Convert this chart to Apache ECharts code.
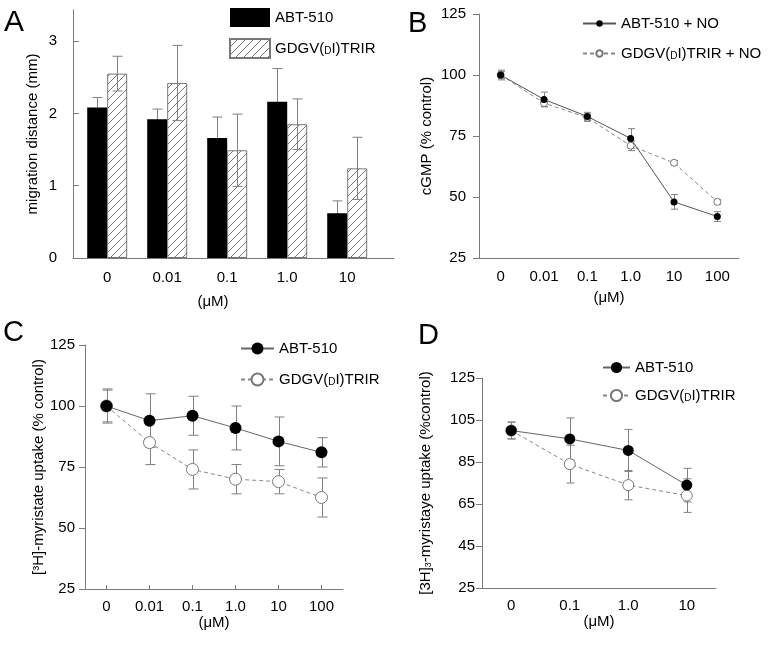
<!DOCTYPE html>
<html>
<head>
<meta charset="utf-8">
<script src="https://cdn.jsdelivr.net/npm/echarts@6/dist/echarts.min.js"></script>
<style>
  html, body { margin: 0; padding: 0; background: #fff; }
  #chart { width: 768px; height: 646px; }
</style>
</head>
<body>
<div id="chart"></div>
<script>
// A: migration distance (mm)
const doseA = ['0', '0.01', '0.1', '1.0', '10'];
const abtA = [2.08, 1.92, 1.66, 2.16, 0.62];
const abtAErr = [0.14, 0.14, 0.29, 0.46, 0.17];
const gdgvA = [2.55, 2.42, 1.49, 1.85, 1.24];
const gdgvAErr = [0.24, 0.52, 0.5, 0.35, 0.43];
const ticksA = [0, 1, 2, 3];

// B: cGMP (% control)
const doseB = ['0', '0.01', '0.1', '1.0', '10', '100'];
const abtB = [100, 90, 83, 74, 48, 42];
const abtBErr = [2, 3, 1.7, 4, 3, 2];
const gdgvB = [100, 88.5, 82.5, 71, 64, 48];
const gdgvBErr = [1.5, 1.5, 1.5, 2, 1, 1];

// C: [3H]-myristate uptake
const doseC = ['0', '0.01', '0.1', '1.0', '10', '100'];
const abtC = [100, 94, 96, 91, 85.5, 81];
const abtCErr = [7, 11, 8, 9, 10, 6];
const gdgvC = [100, 85, 74, 70, 69, 62.5];
const gdgvCErr = [6.5, 9, 8, 6, 5, 8];

// D: [3H]-myristate uptake, fewer doses
const doseD = ['0', '0.1', '1.0', '10'];
const abtD = [100, 96, 90.5, 74];
const abtDErr = [4, 10, 10, 8];
const gdgvD = [100, 84, 74, 69];
const gdgvDErr = [4, 9, 7, 8];
const ticksD = [25, 45, 65, 85, 105, 125];

const FONT = '"Liberation Sans", Arial, sans-serif';
const AXIS = '#7a7a7a';
const ERR = '#808080';
const txt = { color: '#000', fontSize: 15, fontFamily: FONT };
const rich = {
  s: { fontSize: 10, fontFamily: FONT, color: '#000', verticalAlign: 'bottom' },
  sub: { fontSize: 9, fontFamily: FONT, color: '#000', verticalAlign: 'bottom' }
};

function hatch() {
  const c = document.createElement('canvas');
  c.width = 8; c.height = 8;
  const g = c.getContext('2d');
  g.fillStyle = '#fff';
  g.fillRect(0, 0, 8, 8);
  g.strokeStyle = '#777';
  g.lineWidth = 1;
  g.beginPath();
  g.moveTo(0, 8); g.lineTo(8, 0);
  g.moveTo(-1, 1); g.lineTo(1, -1);
  g.moveTo(7, 9); g.lineTo(9, 7);
  g.stroke();
  return c;
}

function errBars(gi, values, errs, cap, dx, z) {
  return {
    type: 'custom', xAxisIndex: gi, yAxisIndex: gi, z: z, silent: true,
    data: values.map((v, i) => [i, v, errs[i]]),
    renderItem(params, api) {
      const x = api.value(0), y = api.value(1), e = api.value(2);
      const top = api.coord([x, y + e]);
      const bot = api.coord([x, y - e]);
      const cx = Math.round(top[0] + dx) + 0.5;
      const w = cap / 2;
      const st = { stroke: ERR, lineWidth: 1 };
      return {
        type: 'group',
        children: [
          { type: 'line', shape: { x1: cx, y1: top[1], x2: cx, y2: bot[1] }, style: st },
          { type: 'line', shape: { x1: cx - w, y1: top[1], x2: cx + w, y2: top[1] }, style: st },
          { type: 'line', shape: { x1: cx - w, y1: bot[1], x2: cx + w, y2: bot[1] }, style: st }
        ]
      };
    }
  };
}

function yAxis(gi, extra) {
  return Object.assign({
    type: 'value', gridIndex: gi, min: 25, max: 125, interval: 25,
    axisLine: { show: true, onZero: false, lineStyle: { color: AXIS } },
    axisTick: { show: true, length: 6, lineStyle: { color: AXIS } },
    splitLine: { show: false },
    axisLabel: Object.assign({ margin: 12 }, txt),
    nameLocation: 'middle',
    nameTextStyle: Object.assign({ rich: rich }, txt)
  }, extra);
}

function xCat(gi, data, extra) {
  return Object.assign({
    type: 'category', gridIndex: gi, data: data, boundaryGap: true,
    axisLine: { show: true, onZero: false, lineStyle: { color: AXIS } },
    axisTick: { show: false },
    axisLabel: Object.assign({ margin: 11 }, txt),
    name: '(μM)', nameLocation: 'middle', nameGap: 32,
    nameTextStyle: txt
  }, extra);
}

function legendName(n) {
  return n.slice(2).replace('(DI)', '({s|D}I)');
}

const pattern = { image: hatch(), repeat: 'repeat' };
const letter = { fontSize: 29, fontWeight: 'normal', fontFamily: FONT, color: '#000' };

const option = {
  animation: false,
  backgroundColor: '#fff',
  title: [
    { text: 'A', left: 4, top: 8, padding: 0, textStyle: Object.assign({}, letter, { fontSize: 30 }) },
    { text: 'B', left: 408, top: 9, padding: 0, textStyle: letter },
    { text: 'C', left: 3, top: 318, padding: 0, textStyle: letter },
    { text: 'D', left: 418, top: 321, padding: 0, textStyle: letter }
  ],
  legend: [
    {
      data: ['A:ABT-510', 'A:GDGV(DI)TRIR'], left: 229, top: 8, orient: 'vertical', padding: 0,
      icon: 'rect', itemWidth: 40, itemHeight: 19, itemGap: 11,
      formatter: legendName, textStyle: Object.assign({ rich: rich }, txt)
    },
    {
      data: ['B:ABT-510 + NO', 'B:GDGV(DI)TRIR + NO'], left: 582, top: 16, orient: 'vertical', padding: 0,
      itemWidth: 33, itemHeight: 8, itemGap: 15,
      formatter: legendName, textStyle: Object.assign({ rich: rich }, txt)
    },
    {
      data: ['C:ABT-510', 'C:GDGV(DI)TRIR'], left: 240, top: 341, orient: 'vertical', padding: 0,
      itemWidth: 33, itemHeight: 15, itemGap: 16,
      formatter: legendName, textStyle: Object.assign({ rich: rich }, txt)
    },
    {
      data: ['D:ABT-510', 'D:GDGV(DI)TRIR'], left: 602, top: 360, orient: 'vertical', padding: 0,
      itemWidth: 27, itemHeight: 14, itemGap: 13,
      formatter: legendName, textStyle: Object.assign({ rich: rich }, txt)
    }
  ],
  grid: [
    { left: 73, top: 10, width: 321, height: 248 },
    { left: 479, top: 14, width: 260, height: 244 },
    { left: 85, top: 345, width: 258, height: 244 },
    { left: 482, top: 378, width: 234, height: 210 }
  ],
  xAxis: [
    {
      type: 'value', gridIndex: 0, min: -0.57, max: 4.78,
      axisLine: { show: true, onZero: false, lineStyle: { color: AXIS } },
      axisTick: { show: false },
      splitLine: { show: false },
      axisLabel: Object.assign({ margin: 12, customValues: [0, 1, 2, 3, 4], formatter: v => doseA[v] }, txt),
      name: '(μM)', nameLocation: 'middle', nameGap: 36,
      nameTextStyle: Object.assign({ padding: [0, 41, 0, 0] }, txt)
    },
    xCat(1, doseB, {}),
    xCat(2, doseC, {
      axisTick: { show: true, inside: true, alignWithLabel: true, length: 4, lineStyle: { color: AXIS } },
      axisLabel: Object.assign({ margin: 10 }, txt),
      nameGap: 25
    }),
    xCat(3, doseD, { axisLabel: Object.assign({ margin: 10 }, txt), nameGap: 26 })
  ],
  yAxis: [
    yAxis(0, {
      min: 0, max: 3.43, interval: null,
      axisTick: { show: true, inside: true, length: 6, customValues: ticksA, lineStyle: { color: AXIS } },
      axisLabel: Object.assign({ margin: 16, customValues: ticksA }, txt),
      name: 'migration distance (mm)', nameGap: 33
    }),
    yAxis(1, { name: 'cGMP (% control)', nameGap: 45, axisLabel: Object.assign({ margin: 13 }, txt) }),
    yAxis(2, { name: '[³H]-myristate uptake (% control)', nameGap: 34, axisLabel: Object.assign({ margin: 10 }, txt) }),
    yAxis(3, {
      interval: null,
      axisTick: { show: true, length: 6, customValues: ticksD, lineStyle: { color: AXIS } },
      axisLabel: Object.assign({ margin: 7, customValues: ticksD }, txt),
      name: '[3H]{sub|3}-myristaye uptake (%control)', nameGap: 49
    })
  ],
  series: [
    // A
    errBars(0, abtA, abtAErr, 10, -10, 1),
    {
      name: 'A:ABT-510', type: 'bar', xAxisIndex: 0, yAxisIndex: 0, z: 2,
      data: abtA.map((v, i) => [i, v]), barWidth: 20, barGap: '0%',
      itemStyle: { color: '#000' }
    },
    {
      name: 'A:GDGV(DI)TRIR', type: 'bar', xAxisIndex: 0, yAxisIndex: 0, z: 2,
      data: gdgvA.map((v, i) => [i, v]), barWidth: 20, barGap: '0%',
      itemStyle: { color: pattern, borderColor: '#777', borderWidth: 1 }
    },
    errBars(0, gdgvA, gdgvAErr, 10, 10, 3),
    // B
    errBars(1, abtB, abtBErr, 7, 0, 1),
    errBars(1, gdgvB, gdgvBErr, 7, 0, 1),
    {
      name: 'B:ABT-510 + NO', type: 'line', xAxisIndex: 1, yAxisIndex: 1, z: 3,
      data: abtB, symbol: 'circle', symbolSize: 7,
      itemStyle: { color: '#000' }, lineStyle: { color: '#555', width: 1 }
    },
    {
      name: 'B:GDGV(DI)TRIR + NO', type: 'line', xAxisIndex: 1, yAxisIndex: 1, z: 2,
      data: gdgvB, symbol: 'circle', symbolSize: 7,
      itemStyle: { color: '#fff', borderColor: '#777', borderWidth: 1 },
      lineStyle: { color: '#888', width: 1, type: [4, 3] }
    },
    // C
    errBars(2, abtC, abtCErr, 10, 0, 1),
    errBars(2, gdgvC, gdgvCErr, 10, 0, 1),
    {
      name: 'C:ABT-510', type: 'line', xAxisIndex: 2, yAxisIndex: 2, z: 3,
      data: abtC, symbol: 'circle', symbolSize: 12,
      itemStyle: { color: '#000' }, lineStyle: { color: '#666', width: 1 }
    },
    {
      name: 'C:GDGV(DI)TRIR', type: 'line', xAxisIndex: 2, yAxisIndex: 2, z: 2,
      data: gdgvC, symbol: 'circle', symbolSize: 12,
      itemStyle: { color: '#fff', borderColor: '#777', borderWidth: 1 },
      lineStyle: { color: '#888', width: 1, type: [4, 3] }
    },
    // D
    errBars(3, abtD, abtDErr, 8, 0, 1),
    errBars(3, gdgvD, gdgvDErr, 8, 0, 1),
    {
      name: 'D:ABT-510', type: 'line', xAxisIndex: 3, yAxisIndex: 3, z: 3,
      data: abtD, symbol: 'circle', symbolSize: 11,
      itemStyle: { color: '#000' }, lineStyle: { color: '#666', width: 1 }
    },
    {
      name: 'D:GDGV(DI)TRIR', type: 'line', xAxisIndex: 3, yAxisIndex: 3, z: 2,
      data: gdgvD, symbol: 'circle', symbolSize: 11,
      itemStyle: { color: '#fff', borderColor: '#777', borderWidth: 1 },
      lineStyle: { color: '#888', width: 1, type: [4, 3] }
    }
  ]
};

const chart = echarts.init(document.getElementById('chart'));
chart.setOption(option);
</script>
</body>
</html>
